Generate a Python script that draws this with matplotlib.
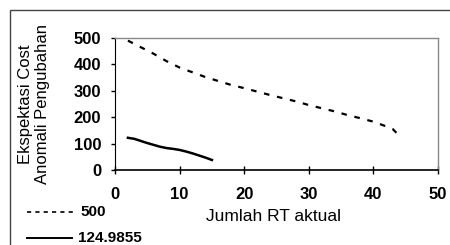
import matplotlib
matplotlib.use("Agg")
import matplotlib.pyplot as plt
from matplotlib.lines import Line2D
from matplotlib.patches import Rectangle

plt.rcParams['font.family'] = ['Liberation Sans', 'DejaVu Sans']

x_upper = [2, 4, 6, 8, 10, 12, 14, 16, 18, 20, 22, 24, 26, 28, 30, 32, 34, 36, 38, 40, 42, 43, 44]
y_upper = [490, 465, 440, 412, 388, 370, 352, 337, 322, 310, 297, 284, 272, 260, 246, 234, 222, 208, 196, 183, 165, 155, 130]
x_lower = [2, 3, 4, 5, 6, 7, 8, 9, 10, 11, 12, 13, 14, 15]
y_lower = [122, 118, 110, 102, 95, 88, 83, 80, 76, 70, 63, 55, 47, 38]
labels = ["500", "124.9855"]
x_ticks = [0, 10, 20, 30, 40, 50]
y_ticks = [0, 100, 200, 300, 400, 500]

fig = plt.figure(figsize=(4.5, 2.45), dpi=100)
fig.patches.append(Rectangle((10/450, -0.1), 1.2, 1 - 10/245 + 0.1, transform=fig.transFigure,
                             fill=False, edgecolor='#444444', linewidth=1.0))
ax = fig.add_axes([115/450, 1 - 170/245, 323/450, 132/245])
ax.plot(x_upper, y_upper, color='black', linestyle=(0, (2.5, 3.5)), linewidth=1.6)
ax.plot(x_lower, y_lower, color='black', linestyle='-', linewidth=1.8)
ax.set_xlim(0, 50)
ax.set_ylim(0, 500)
ax.set_xticks(x_ticks)
ax.set_yticks(y_ticks)
ax.set_xticklabels([str(t) for t in x_ticks], fontsize=12, fontweight='bold')
ax.set_yticklabels([str(t) for t in y_ticks], fontsize=12, fontweight='bold')
ax.tick_params(axis='y', direction='out', length=3, width=1, pad=7)
ax.tick_params(axis='x', direction='inout', length=6, width=1, pad=9)
for s in ['top', 'right']:
    ax.spines[s].set_color('#888888')
    ax.spines[s].set_linestyle((0, (1, 1)))
    ax.spines[s].set_linewidth(1)
ax.spines['left'].set_color('black')
ax.spines['bottom'].set_color('black')
ax.spines['bottom'].set_linewidth(1.2)
ax.set_xlabel("Jumlah RT aktual", fontsize=12.5)
ax.xaxis.set_label_coords((273 - 115) / 323, -(209 - 170) / 132)
ax.set_ylabel("Ekspektasi Cost\nAnomali Pengubahan", fontsize=12, linespacing=1.15)
ax.yaxis.set_label_coords((50 - 115) / 323, (170 - 104) / 132)

fig.add_artist(Line2D([27/450, 73/450], [1 - 212/245, 1 - 212/245], color='black',
                      linestyle=(0, (2.5, 2.5)), linewidth=1.2))
fig.text(80/450, 1 - 212/245, labels[0], fontsize=11, fontweight='bold', va='center')
fig.add_artist(Line2D([27/450, 72/450], [1 - 238/245, 1 - 238/245], color='black',
                      linestyle='-', linewidth=1.4))
fig.text(78/450, 1 - 238/245, labels[1], fontsize=11, fontweight='bold', va='center')

fig.savefig("out.png", dpi=100)
